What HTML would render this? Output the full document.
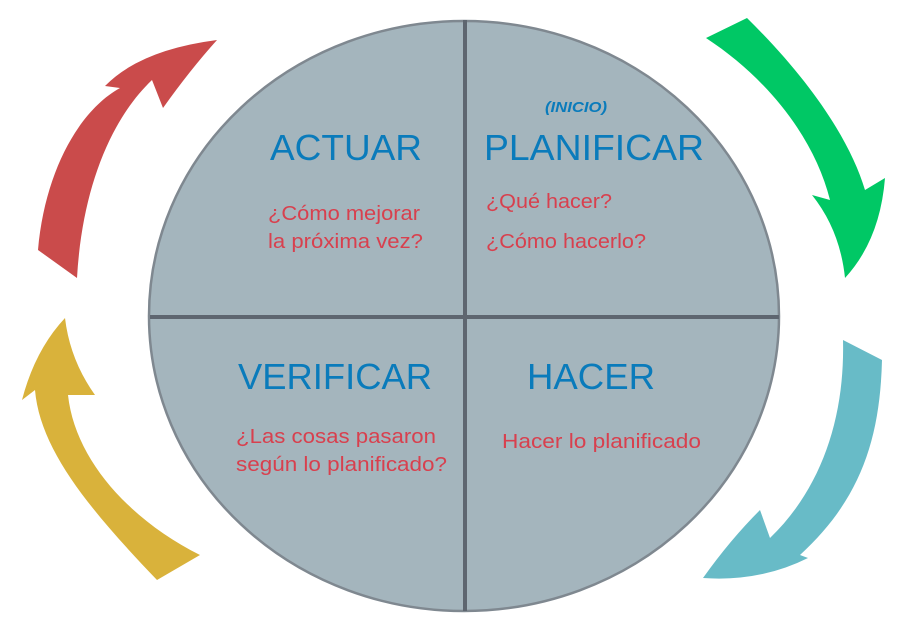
<!DOCTYPE html>
<html><head><meta charset="utf-8"><style>
body{margin:0;background:#fff;}
svg{display:block;}
.h{font-family:"Liberation Sans",sans-serif;font-size:36px;fill:#0a7bbb;}
.r{font-family:"Liberation Sans",sans-serif;font-size:20px;fill:#d8404e;}
</style></head><body>
<svg width="907" height="632" viewBox="0 0 907 632" xmlns="http://www.w3.org/2000/svg">
<ellipse cx="464" cy="316" rx="315" ry="295" fill="#a4b5bd" stroke="#7f8890" stroke-width="2.5"/>
<line x1="465" y1="20" x2="465" y2="611" stroke="#5e6670" stroke-width="4"/>
<line x1="150" y1="317" x2="779" y2="317" stroke="#5e6670" stroke-width="4"/>
<path d="M38,250 C45,170 80,110 120,88 L105,86 Q140,50 217,40 Q190,70 163,108 L152,80 C110,120 82,190 77,278 Z" fill="#ca4b4b"/>
<path d="M706,38 L747,18 C810,80 850,140 865,190 L885,178 Q880,240 845,278 Q840,230 812,195 L830,200 C815,140 770,80 706,38 Z" fill="#00c865"/>
<path d="M843,340 L882,360 C880,440 860,500 800,555 L808,558 Q760,582 703,578 Q730,540 760,510 L770,538 C820,490 845,420 843,340 Z" fill="#68bbc7"/>
<path d="M200,555 L157,580 C90,510 40,450 35,390 L22,400 Q35,350 65,318 Q70,360 95,395 L68,395 C75,460 130,520 200,555 Z" fill="#d9b23b"/>
<g lengthAdjust="spacingAndGlyphs">
<text class="h" x="270" y="160" textLength="152" lengthAdjust="spacingAndGlyphs">ACTUAR</text>
<text class="h" x="484" y="160" textLength="220" lengthAdjust="spacingAndGlyphs">PLANIFICAR</text>
<text x="545" y="112" font-family="Liberation Sans,sans-serif" font-size="15" font-weight="bold" font-style="italic" fill="#0a7bbb" textLength="62" lengthAdjust="spacingAndGlyphs">(INICIO)</text>
<text class="h" x="238" y="389" textLength="194" lengthAdjust="spacingAndGlyphs">VERIFICAR</text>
<text class="h" x="527" y="389" textLength="128" lengthAdjust="spacingAndGlyphs">HACER</text>
<text class="r" x="268" y="220" textLength="152" lengthAdjust="spacingAndGlyphs">¿Cómo mejorar</text>
<text class="r" x="268" y="248" textLength="155" lengthAdjust="spacingAndGlyphs">la próxima vez?</text>
<text class="r" x="486" y="208" textLength="126" lengthAdjust="spacingAndGlyphs">¿Qué hacer?</text>
<text class="r" x="486" y="248" textLength="160" lengthAdjust="spacingAndGlyphs">¿Cómo hacerlo?</text>
<text class="r" x="236" y="443" textLength="200" lengthAdjust="spacingAndGlyphs">¿Las cosas pasaron</text>
<text class="r" x="236" y="471" textLength="211" lengthAdjust="spacingAndGlyphs">según lo planificado?</text>
<text class="r" x="502" y="448" textLength="199" lengthAdjust="spacingAndGlyphs">Hacer lo planificado</text>
</g>
</svg>
</body></html>
